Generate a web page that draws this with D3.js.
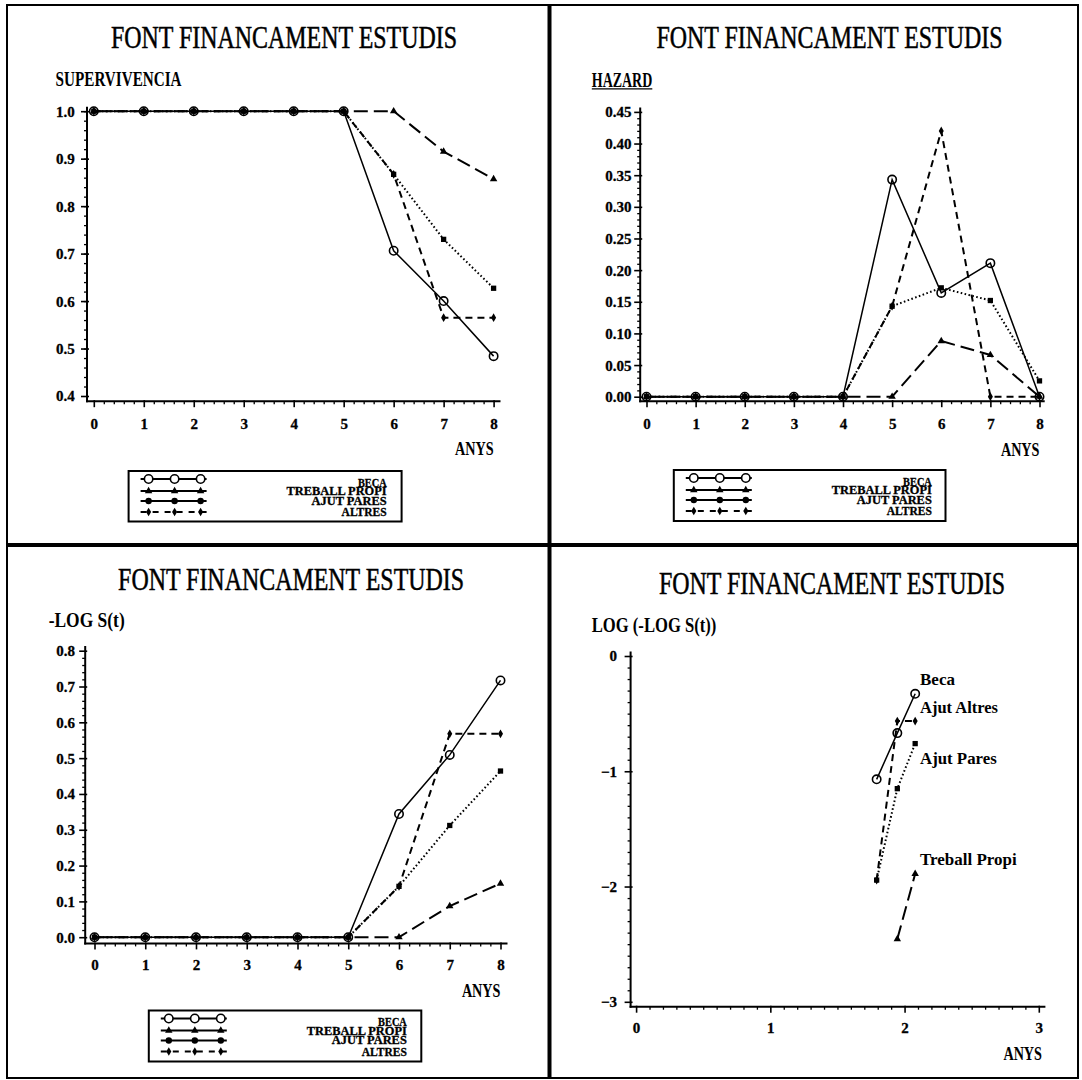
<!DOCTYPE html>
<html><head><meta charset="utf-8">
<script src="https://cdn.jsdelivr.net/npm/d3@7"></script>
<style>html,body{margin:0;padding:0;background:#fff}svg{display:block}</style>
</head><body>
<svg id="chart" width="1082" height="1080"></svg>
<script>
// ---- data ----
const titleText = "FONT FINANCAMENT ESTUDIS";
const years = [0, 1, 2, 3, 4, 5, 6, 7, 8];
const legendNames = ["BECA", "TREBALL PROPI", "AJUT PARES", "ALTRES"];
const curveNames = ["Beca", "Ajut Altres", "Ajut Pares", "Treball Propi"];

// survival S(t)
const survBeca    = [1, 1, 1, 1, 1, 1, 0.706, 0.600, 0.484];
const survTreball = [1, 1, 1, 1, 1, 1, 1.000, 0.915, 0.857];
const survPares   = [1, 1, 1, 1, 1, 1, 0.867, 0.730, 0.627];
const survAltres  = [1, 1, 1, 1, 1, 1, 0.867, 0.565, 0.565];

// hazard
const hazBeca    = [0, 0, 0, 0, 0, 0.343, 0.164, 0.211, 0];
const hazTreball = [0, 0, 0, 0, 0, 0, 0.088, 0.066, 0];
const hazPares   = [0, 0, 0, 0, 0, 0.143, 0.172, 0.152, 0.025];
const hazAltres  = [0, 0, 0, 0, 0, 0.143, 0.420, 0, 0];

// -log S(t)
const cumBeca    = [0, 0, 0, 0, 0, 0, 0.344, 0.509, 0.717];
const cumTreball = [0, 0, 0, 0, 0, 0, 0, 0.087, 0.150];
const cumPares   = [0, 0, 0, 0, 0, 0, 0.142, 0.312, 0.464];
const cumAltres  = [0, 0, 0, 0, 0, 0, 0.142, 0.568, 0.568];

// log(-log S(t)) against log(years)
const logYears   = [1.792, 1.946, 2.079];
const logYearsTP = [1.946, 2.079];
const llBeca     = [-1.07, -0.669, -0.328];
const llPares    = [-1.944, -1.151, -0.760];
const llAltres   = [-1.944, -0.564, -0.564];
const llTreball  = [-2.456, -1.890];

// tick values
const ticksYears = [0, 1, 2, 3, 4, 5, 6, 7, 8];
const ticksSurv  = [0.4, 0.5, 0.6, 0.7, 0.8, 0.9, 1.0];
const ticksHaz   = [0, 0.05, 0.10, 0.15, 0.20, 0.25, 0.30, 0.35, 0.40, 0.45];
const ticksCum   = [0, 0.1, 0.2, 0.3, 0.4, 0.5, 0.6, 0.7, 0.8];
const ticksLogX  = [0, 1, 2, 3];
const ticksLogY  = [-3, -2, -1, 0];

// ---- drawing ----
const svg = d3.select("#chart");
const FONT = "'Liberation Serif', 'Times New Roman', serif";

const styles = {
  beca:    {dash: null,      width: 1.5, sym: "circleOpen"},
  treball: {dash: "14,6",    width: 2.0, sym: "triangle"},
  pares:   {dash: "1.6,2.4", width: 2.0, sym: "square"},
  altres:  {dash: "7,5",     width: 2.0, sym: "diamond"}
};

function marker(g, kind, cx, cy, fill) {
  if (kind === "circleOpen") {
    g.append("circle").attr("cx", cx).attr("cy", cy).attr("r", 4.2)
      .attr("fill", fill || "none").attr("stroke", "#000").attr("stroke-width", 1.6);
  } else if (kind === "dot") {
    g.append("circle").attr("cx", cx).attr("cy", cy).attr("r", 3.2).attr("fill", "#000");
  } else {
    const t = {triangle: d3.symbolTriangle, square: d3.symbolSquare, diamond: d3.symbolDiamond}[kind];
    const size = {triangle: 24, square: 28, diamond: 22}[kind];
    g.append("path").attr("d", d3.symbol().type(t).size(size)())
      .attr("transform", `translate(${cx},${cy})`).attr("fill", "#000");
  }
}

// text with optional vertical stretch (sy) around its baseline
function frameText(g, str, opts) {
  const t = g.append("text").text(str)
    .attr("x", opts.x).attr("y", opts.y)
    .attr("font-family", FONT)
    .attr("font-size", opts.size)
    .attr("font-weight", opts.weight || "bold")
    .attr("text-anchor", opts.anchor || "start")
    .attr("fill", "#000");
  if (opts.len) t.attr("textLength", opts.len).attr("lengthAdjust", "spacingAndGlyphs");
  if (opts.stroke) t.attr("stroke", "#000").attr("stroke-width", opts.stroke);
  if (opts.sy) t.attr("transform", `translate(0,${opts.y}) scale(1,${opts.sy}) translate(0,${-opts.y})`);
  return t;
}

function drawLegend(g, box) {
  g.append("rect").attr("x", box.x).attr("y", box.y).attr("width", box.w).attr("height", box.h)
    .attr("fill", "none").attr("stroke", "#000").attr("stroke-width", 2);
  const rows = [8, 20, 30, 41];
  const syms = ["circleOpen", "triangle", "dot", "diamond"];
  const marks = [20, 46, 72];
  rows.forEach((ry, i) => {
    const yy = box.y + ry;
    g.append("line").attr("x1", box.x + 12).attr("x2", box.x + 78)
      .attr("y1", yy).attr("y2", yy).attr("stroke", "#000").attr("stroke-width", 1.8)
      .attr("stroke-dasharray", i === 3 ? "6,6" : null);
    marks.forEach(mx => marker(g, syms[i], box.x + mx, yy, "#fff"));
  });
  const labBase = [16, 24.5, 34, 45.5];
  const labLen = [28.7, 100, 75, 45];
  legendNames.forEach((n, i) => {
    frameText(g, n, {x: box.x + 258, y: box.y + labBase[i], size: 11.5, anchor: "end",
      len: labLen[i], sy: 1.1, stroke: 0.3});
  });
}

function drawPanel(p) {
  const g = svg.append("g");
  const x = d3.scaleLinear().domain(p.xDomain).range(p.xRange);
  const y = d3.scaleLinear().domain(p.yDomain).range(p.yRange);

  // title and axis captions
  frameText(g, titleText, {x: p.title[0], y: p.title[1], size: 27, weight: "normal",
    anchor: "middle", len: 346, stroke: 0.45, sy: 1.16});
  frameText(g, p.yLabel.text, {x: p.yLabel.x, y: p.yLabel.y, size: 18, len: p.yLabel.len, sy: 1.12});
  if (p.yLabel.underline) {
    g.append("line").attr("x1", p.yLabel.x).attr("x2", p.yLabel.x + p.yLabel.len)
      .attr("y1", p.yLabel.y + 2).attr("y2", p.yLabel.y + 2).attr("stroke", "#000").attr("stroke-width", 1.3);
  }
  frameText(g, "ANYS", {x: p.anys[0], y: p.anys[1], size: 17, anchor: "end", len: 38.6, sy: 1.15});

  // axis lines
  g.append("line").attr("x1", p.axisX).attr("x2", p.axisX).attr("y1", p.yTop).attr("y2", p.axisY + 1)
    .attr("stroke", "#000").attr("stroke-width", 2);
  g.append("line").attr("x1", p.axisX - 1).attr("x2", p.xRight).attr("y1", p.axisY).attr("y2", p.axisY)
    .attr("stroke", "#000").attr("stroke-width", 2);

  // y axis: minor + major
  const yMinor = g.append("g").attr("transform", `translate(${p.axisX},0)`)
    .call(d3.axisLeft(y).tickValues(p.yMinor).tickFormat("").tickSize(3));
  yMinor.select(".domain").remove();
  yMinor.selectAll(".tick line").attr("stroke-width", 1.3);

  const ya = g.append("g").attr("transform", `translate(${p.axisX},0)`)
    .call(d3.axisLeft(y).tickValues(p.yTicks).tickFormat(p.yFmt).tickSize(6));
  ya.select(".domain").remove();
  ya.selectAll(".tick line").attr("x1", 2).attr("stroke-width", 1.6);
  ya.selectAll(".tick text").attr("x", -p.yPad).attr("dy", "0.33em")
    .attr("font-family", FONT).attr("font-size", 15).attr("font-weight", "bold")
    .attr("fill", "#000").attr("stroke", "#000").attr("stroke-width", 0.3);

  // x axis: minor + major
  const xMinor = g.append("g").attr("transform", `translate(0,${p.axisY})`)
    .call(d3.axisBottom(x).tickValues(p.xMinor).tickFormat("").tickSize(3));
  xMinor.select(".domain").remove();
  xMinor.selectAll(".tick line").attr("stroke-width", 1.3);

  const xa = g.append("g").attr("transform", `translate(0,${p.axisY})`)
    .call(d3.axisBottom(x).tickValues(p.xTicks).tickFormat(d3.format("d")).tickSize(6));
  xa.select(".domain").remove();
  xa.selectAll(".tick line").attr("y1", -1).attr("stroke-width", 1.6);
  xa.selectAll(".tick text").attr("y", p.xLabY - p.axisY).attr("dy", "0.33em")
    .attr("font-family", FONT).attr("font-size", 15).attr("font-weight", "bold")
    .attr("fill", "#000").attr("stroke", "#000").attr("stroke-width", 0.3);

  // series lines, then markers on top
  const line = d3.line().x(d => x(d[0])).y(d => y(d[1]));
  p.series.forEach(s => {
    const st = styles[s.key];
    const pts = s.xs.map((v, i) => [v, s.ys[i]]);
    g.append("path").attr("d", line(pts)).attr("fill", "none").attr("stroke", "#000")
      .attr("stroke-width", st.width).attr("stroke-dasharray", st.dash);
  });
  p.series.forEach(s => {
    const st = styles[s.key];
    s.xs.forEach((v, i) => marker(g, st.sym, x(v), y(s.ys[i])));
  });

  if (p.legend) drawLegend(g, p.legend);
  if (p.curveLabels) {
    p.curveLabels.forEach(c => frameText(g, c.text, {x: c.x, y: c.y, size: 15, len: c.len, sy: 1.1}));
  }
}

const fmt1 = d3.format(".1f"), fmt2 = d3.format(".2f");
const minorYears = d3.range(0, 8.01, 0.2).filter(v => Math.abs(v - Math.round(v)) > 1e-6);

drawPanel({
  xDomain: [0, 8], xRange: [93.8, 493.6], yDomain: [0.4, 1.0], yRange: [396, 111.2],
  axisX: 87, axisY: 401.2, yTop: 106.7, xRight: 500.5,
  xTicks: ticksYears, xMinor: minorYears, yTicks: ticksSurv, yFmt: fmt1,
  yMinor: d3.range(0.42, 1.0, 0.02), yPad: 12.3, xLabY: 423.6,
  title: [284, 48.3], yLabel: {text: "SUPERVIVENCIA", x: 55.6, y: 86.2, len: 126},
  anys: [493.6, 454.7],
  series: [
    {key: "altres", xs: years, ys: survAltres},
    {key: "pares", xs: years, ys: survPares},
    {key: "treball", xs: years, ys: survTreball},
    {key: "beca", xs: years, ys: survBeca}
  ],
  legend: {x: 128.6, y: 471, w: 273, h: 50.5}
});

drawPanel({
  xDomain: [0, 8], xRange: [646.5, 1039.5], yDomain: [0, 0.45], yRange: [396.7, 111.9],
  axisX: 640.2, axisY: 401.2, yTop: 107.4, xRight: 1044.7,
  xTicks: ticksYears, xMinor: minorYears, yTicks: ticksHaz, yFmt: fmt2,
  yMinor: d3.range(0.01, 0.45, 0.01).filter(v => Math.abs(v * 20 - Math.round(v * 20)) > 1e-6),
  yPad: 8.6, xLabY: 424.2,
  title: [829.5, 48.3], yLabel: {text: "HAZARD", x: 591.8, y: 86.9, len: 60.5, underline: true},
  anys: [1039.5, 456.4],
  series: [
    {key: "altres", xs: years, ys: hazAltres},
    {key: "pares", xs: years, ys: hazPares},
    {key: "treball", xs: years, ys: hazTreball},
    {key: "beca", xs: years, ys: hazBeca}
  ],
  legend: {x: 673.8, y: 470, w: 271.7, h: 51}
});

drawPanel({
  xDomain: [0, 8], xRange: [94.5, 500.5], yDomain: [0, 0.8], yRange: [937.2, 650.7],
  axisX: 85.2, axisY: 943.4, yTop: 646, xRight: 507.5,
  xTicks: ticksYears, xMinor: minorYears, yTicks: ticksCum, yFmt: fmt1,
  yMinor: d3.range(0.02, 0.8, 0.02).filter(v => Math.abs(v * 10 - Math.round(v * 10)) > 1e-6),
  yPad: 10.2, xLabY: 965.3,
  title: [291.1, 590.5], yLabel: {text: "-LOG S(t)", x: 48.7, y: 627, len: 76},
  anys: [500.5, 997],
  series: [
    {key: "altres", xs: years, ys: cumAltres},
    {key: "pares", xs: years, ys: cumPares},
    {key: "treball", xs: years, ys: cumTreball},
    {key: "beca", xs: years, ys: cumBeca}
  ],
  legend: {x: 148.8, y: 1010.5, w: 272.5, h: 51}
});

drawPanel({
  xDomain: [0, 3], xRange: [636.1, 1038.8], yDomain: [-3, 0], yRange: [1001.8, 656],
  axisX: 630.6, axisY: 1006.7, yTop: 651.4, xRight: 1045.4,
  xTicks: ticksLogX, xMinor: d3.range(0.1, 3.0, 0.1).filter(v => Math.abs(v - Math.round(v)) > 1e-6),
  yTicks: ticksLogY, yFmt: d3.format("d"),
  yMinor: d3.range(-2.9, 0, 0.1).filter(v => Math.abs(v - Math.round(v)) > 1e-6),
  yPad: 13.6, xLabY: 1027.9,
  title: [832, 594], yLabel: {text: "LOG (-LOG S(t))", x: 591.8, y: 632.5, len: 124.5},
  anys: [1042, 1060],
  series: [
    {key: "altres", xs: logYears, ys: llAltres},
    {key: "pares", xs: logYears, ys: llPares},
    {key: "treball", xs: logYearsTP, ys: llTreball},
    {key: "beca", xs: logYears, ys: llBeca}
  ],
  curveLabels: [
    {text: curveNames[0], x: 920, y: 685.5, len: 35},
    {text: curveNames[1], x: 920, y: 712.8, len: 78},
    {text: curveNames[2], x: 920, y: 763.8, len: 76.7},
    {text: curveNames[3], x: 920, y: 865.5, len: 96.7}
  ]
});

// outer frame and panel dividers
svg.append("rect").attr("x", 7).attr("y", 5).attr("width", 1071).attr("height", 1073)
  .attr("fill", "none").attr("stroke", "#000").attr("stroke-width", 2);
svg.append("line").attr("x1", 549.5).attr("x2", 549.5).attr("y1", 5).attr("y2", 1078)
  .attr("stroke", "#000").attr("stroke-width", 4);
svg.append("line").attr("x1", 7).attr("x2", 1078).attr("y1", 545).attr("y2", 545)
  .attr("stroke", "#000").attr("stroke-width", 4);
</script>
</body></html>
